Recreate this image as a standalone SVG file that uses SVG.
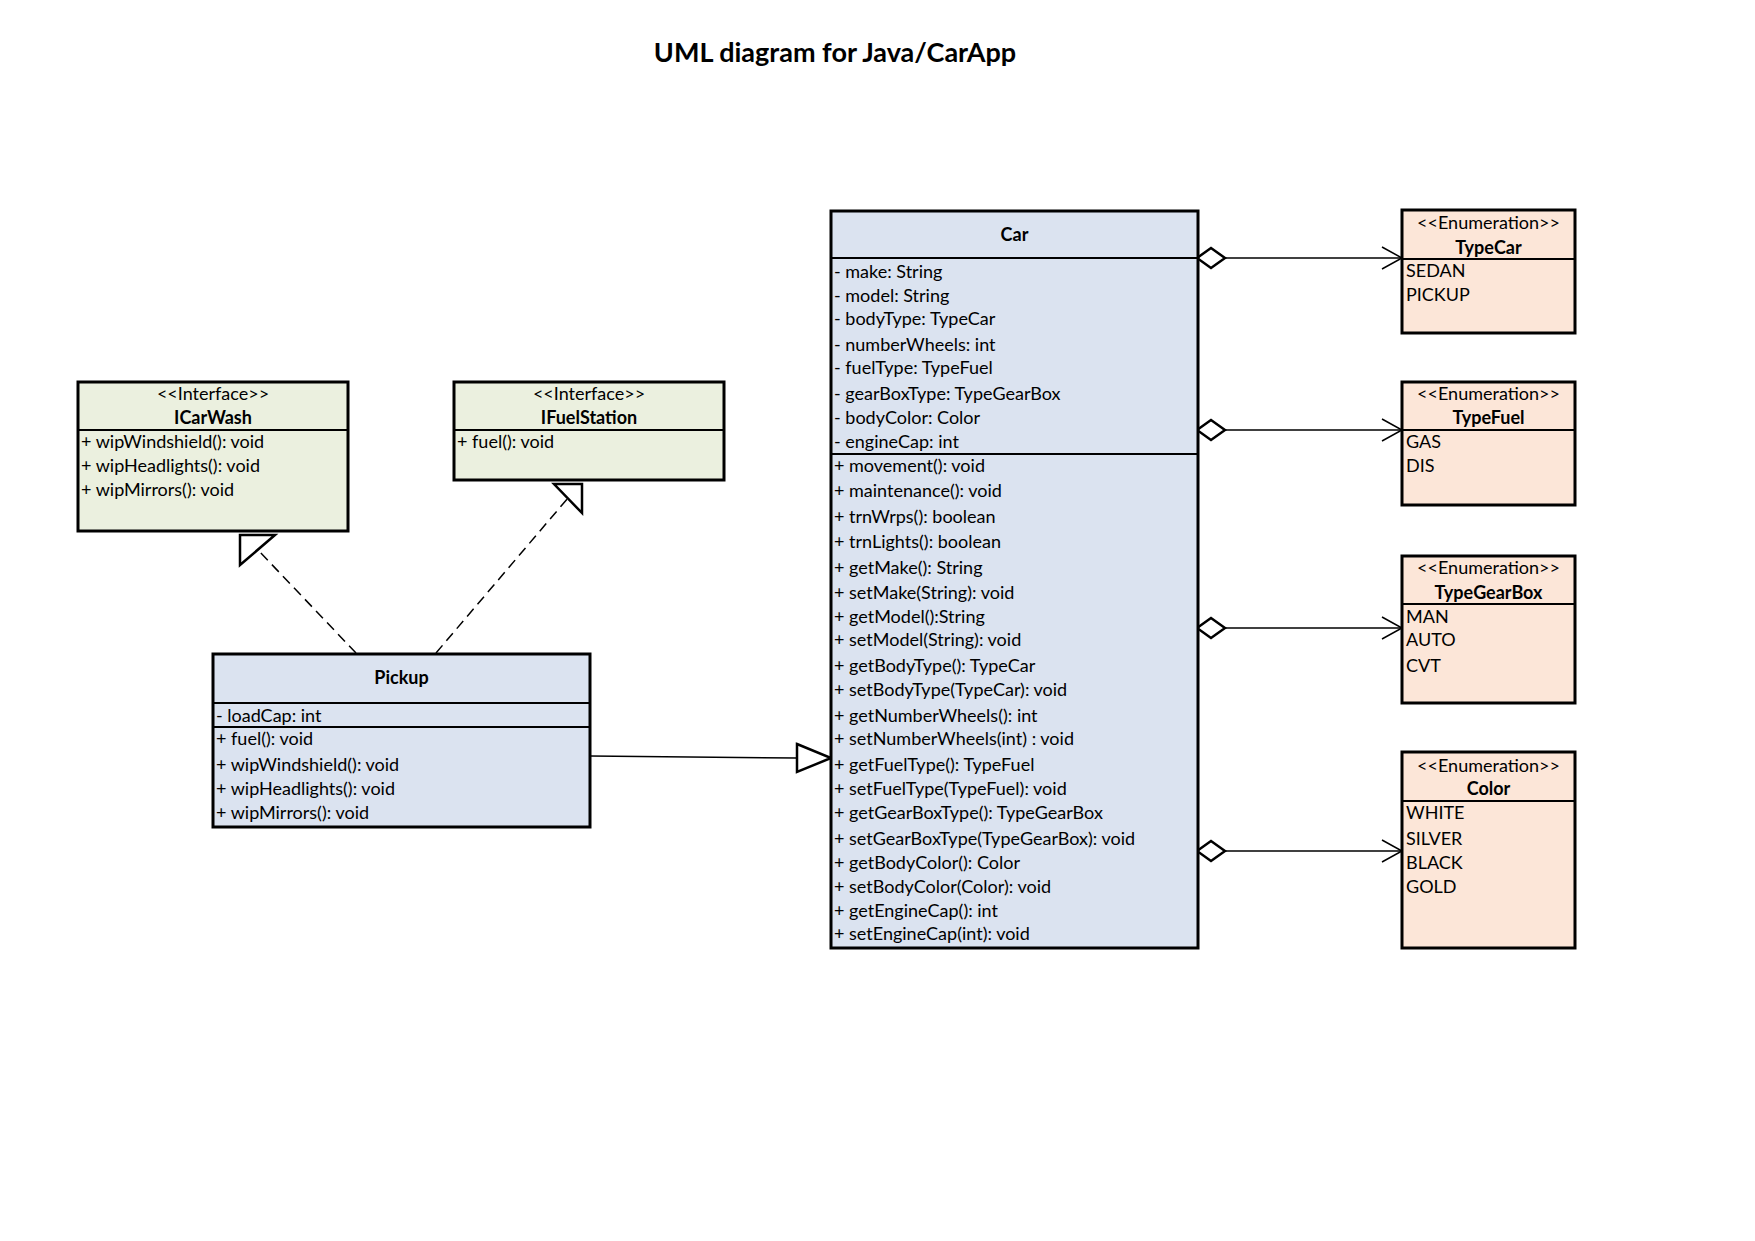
<svg xmlns="http://www.w3.org/2000/svg" width="1755" height="1241" viewBox="0 0 1755 1241">
  <style>
    text { font-family: Lato, "Liberation Sans", sans-serif; font-size: 18px; fill: #000; }
    .title { font-size: 27px; font-weight: bold; text-anchor: middle; }
    .name { font-weight: bold; text-anchor: middle; }
    .stereo { text-anchor: middle; }
    .box { stroke: #000; stroke-width: 3; }
    .cls { fill: #dbe3f0; }
    .ifc { fill: #ebf0df; }
    .enm { fill: #fce6d8; }
    .div { stroke: #000; stroke-width: 2; fill: none; }
    .link { stroke: #000; stroke-width: 1.5; fill: none; }
    .dash { stroke-dasharray: 10 6; }
    .head { fill: #fff; stroke: #000; stroke-width: 2.5; stroke-linejoin: miter; }
  </style>
  <defs>
    <!-- hollow diamond for aggregation (drawn at the owning class) -->
    <marker id="diamond" markerUnits="userSpaceOnUse" markerWidth="34" markerHeight="26" viewBox="-2 -13 34 26" refX="0" refY="0" orient="auto">
      <path d="M0,0 L14,-10 L28,0 L14,10 Z" fill="#fff" stroke="#000" stroke-width="2.5"/>
    </marker>
    <!-- open arrowhead for navigability -->
    <marker id="open" markerUnits="userSpaceOnUse" markerWidth="26" markerHeight="28" viewBox="-23 -14 26 28" refX="0" refY="0" orient="auto">
      <path d="M-20,-11 L0,0 L-20,11" fill="none" stroke="#000" stroke-width="1.5"/>
    </marker>
  </defs>

  <rect width="1755" height="1241" fill="#fff"/>

  <text class="title" x="835" y="62">UML diagram for Java/CarApp</text>

  <!-- connectors -->
  <g id="connectors">
    <!-- Car aggregations to enumerations -->
    <line class="link" x1="1197" y1="258" x2="1402" y2="258" marker-start="url(#diamond)" marker-end="url(#open)"/>
    <line class="link" x1="1197" y1="430" x2="1402" y2="430" marker-start="url(#diamond)" marker-end="url(#open)"/>
    <line class="link" x1="1197" y1="628" x2="1402" y2="628" marker-start="url(#diamond)" marker-end="url(#open)"/>
    <line class="link" x1="1197" y1="851" x2="1402" y2="851" marker-start="url(#diamond)" marker-end="url(#open)"/>

    <!-- Pickup extends Car -->
    <line class="link" x1="590" y1="756" x2="797" y2="758"/>
    <polygon class="head" points="797,744 831,758 797,772"/>

    <!-- Pickup implements ICarWash -->
    <line class="link dash" x1="356" y1="653" x2="258" y2="550"/>
    <polygon class="head" points="240,535 275,535 240,565"/>

    <!-- Pickup implements IFuelStation -->
    <line class="link dash" x1="436" y1="653" x2="568" y2="498"/>
    <polygon class="head" points="582,484 554,484 582,513"/>
  </g>

  <!-- Car class -->
  <g id="car">
    <rect class="box cls" x="831" y="211" width="367" height="737"/>
    <line class="div" x1="831" y1="258" x2="1198" y2="258"/>
    <line class="div" x1="831" y1="454" x2="1198" y2="454"/>
    <text class="name" x="1014.5" y="241">Car</text>
    <text x="834" y="278">- make: String</text>
    <text x="834" y="302">- model: String</text>
    <text x="834" y="325">- bodyType: TypeCar</text>
    <text x="834" y="351">- numberWheels: int</text>
    <text x="834" y="374">- fuelType: TypeFuel</text>
    <text x="834" y="400">- gearBoxType: TypeGearBox</text>
    <text x="834" y="424">- bodyColor: Color</text>
    <text x="834" y="448">- engineCap: int</text>
    <text x="834" y="472">+ movement(): void</text>
    <text x="834" y="497">+ maintenance(): void</text>
    <text x="834" y="523">+ trnWrps(): boolean</text>
    <text x="834" y="548">+ trnLights(): boolean</text>
    <text x="834" y="574">+ getMake(): String</text>
    <text x="834" y="599">+ setMake(String): void</text>
    <text x="834" y="623">+ getModel():String</text>
    <text x="834" y="646">+ setModel(String): void</text>
    <text x="834" y="672">+ getBodyType(): TypeCar</text>
    <text x="834" y="696">+ setBodyType(TypeCar): void</text>
    <text x="834" y="722">+ getNumberWheels(): int</text>
    <text x="834" y="745">+ setNumberWheels(int) : void</text>
    <text x="834" y="771">+ getFuelType(): TypeFuel</text>
    <text x="834" y="795">+ setFuelType(TypeFuel): void</text>
    <text x="834" y="819">+ getGearBoxType(): TypeGearBox</text>
    <text x="834" y="845">+ setGearBoxType(TypeGearBox): void</text>
    <text x="834" y="869">+ getBodyColor(): Color</text>
    <text x="834" y="893">+ setBodyColor(Color): void</text>
    <text x="834" y="917">+ getEngineCap(): int</text>
    <text x="834" y="940">+ setEngineCap(int): void</text>
  </g>

  <!-- Pickup class -->
  <g id="pickup">
    <rect class="box cls" x="213" y="654" width="377" height="173"/>
    <line class="div" x1="213" y1="703" x2="590" y2="703"/>
    <line class="div" x1="213" y1="727" x2="590" y2="727"/>
    <text class="name" x="401.5" y="684">Pickup</text>
    <text x="216" y="722">- loadCap: int</text>
    <text x="216" y="745">+ fuel(): void</text>
    <text x="216" y="771">+ wipWindshield(): void</text>
    <text x="216" y="795">+ wipHeadlights(): void</text>
    <text x="216" y="819">+ wipMirrors(): void</text>
  </g>

  <!-- ICarWash interface -->
  <g id="icarwash">
    <rect class="box ifc" x="78" y="382" width="270" height="149"/>
    <line class="div" x1="78" y1="430" x2="348" y2="430"/>
    <text class="stereo" x="213" y="400">&lt;&lt;Interface&gt;&gt;</text>
    <text class="name" x="213" y="424">ICarWash</text>
    <text x="81" y="448">+ wipWindshield(): void</text>
    <text x="81" y="472">+ wipHeadlights(): void</text>
    <text x="81" y="496">+ wipMirrors(): void</text>
  </g>

  <!-- IFuelStation interface -->
  <g id="ifuelstation">
    <rect class="box ifc" x="454" y="382" width="270" height="98"/>
    <line class="div" x1="454" y1="430" x2="724" y2="430"/>
    <text class="stereo" x="589" y="400">&lt;&lt;Interface&gt;&gt;</text>
    <text class="name" x="589" y="424">IFuelStation</text>
    <text x="457" y="448">+ fuel(): void</text>
  </g>

  <!-- TypeCar enumeration -->
  <g id="typecar">
    <rect class="box enm" x="1402" y="210" width="173" height="123"/>
    <line class="div" x1="1402" y1="259" x2="1575" y2="259"/>
    <text class="stereo" x="1488.5" y="229">&lt;&lt;Enumeration&gt;&gt;</text>
    <text class="name" x="1488.5" y="254">TypeCar</text>
    <text x="1406" y="277">SEDAN</text>
    <text x="1406" y="301">PICKUP</text>
  </g>

  <!-- TypeFuel enumeration -->
  <g id="typefuel">
    <rect class="box enm" x="1402" y="382" width="173" height="123"/>
    <line class="div" x1="1402" y1="430" x2="1575" y2="430"/>
    <text class="stereo" x="1488.5" y="400">&lt;&lt;Enumeration&gt;&gt;</text>
    <text class="name" x="1488.5" y="424">TypeFuel</text>
    <text x="1406" y="448">GAS</text>
    <text x="1406" y="472">DIS</text>
  </g>

  <!-- TypeGearBox enumeration -->
  <g id="typegearbox">
    <rect class="box enm" x="1402" y="556" width="173" height="147"/>
    <line class="div" x1="1402" y1="604" x2="1575" y2="604"/>
    <text class="stereo" x="1488.5" y="574">&lt;&lt;Enumeration&gt;&gt;</text>
    <text class="name" x="1488.5" y="599">TypeGearBox</text>
    <text x="1406" y="623">MAN</text>
    <text x="1406" y="646">AUTO</text>
    <text x="1406" y="672">CVT</text>
  </g>

  <!-- Color enumeration -->
  <g id="color">
    <rect class="box enm" x="1402" y="752" width="173" height="196"/>
    <line class="div" x1="1402" y1="801" x2="1575" y2="801"/>
    <text class="stereo" x="1488.5" y="772">&lt;&lt;Enumeration&gt;&gt;</text>
    <text class="name" x="1488.5" y="795">Color</text>
    <text x="1406" y="819">WHITE</text>
    <text x="1406" y="845">SILVER</text>
    <text x="1406" y="869">BLACK</text>
    <text x="1406" y="893">GOLD</text>
  </g>
</svg>
